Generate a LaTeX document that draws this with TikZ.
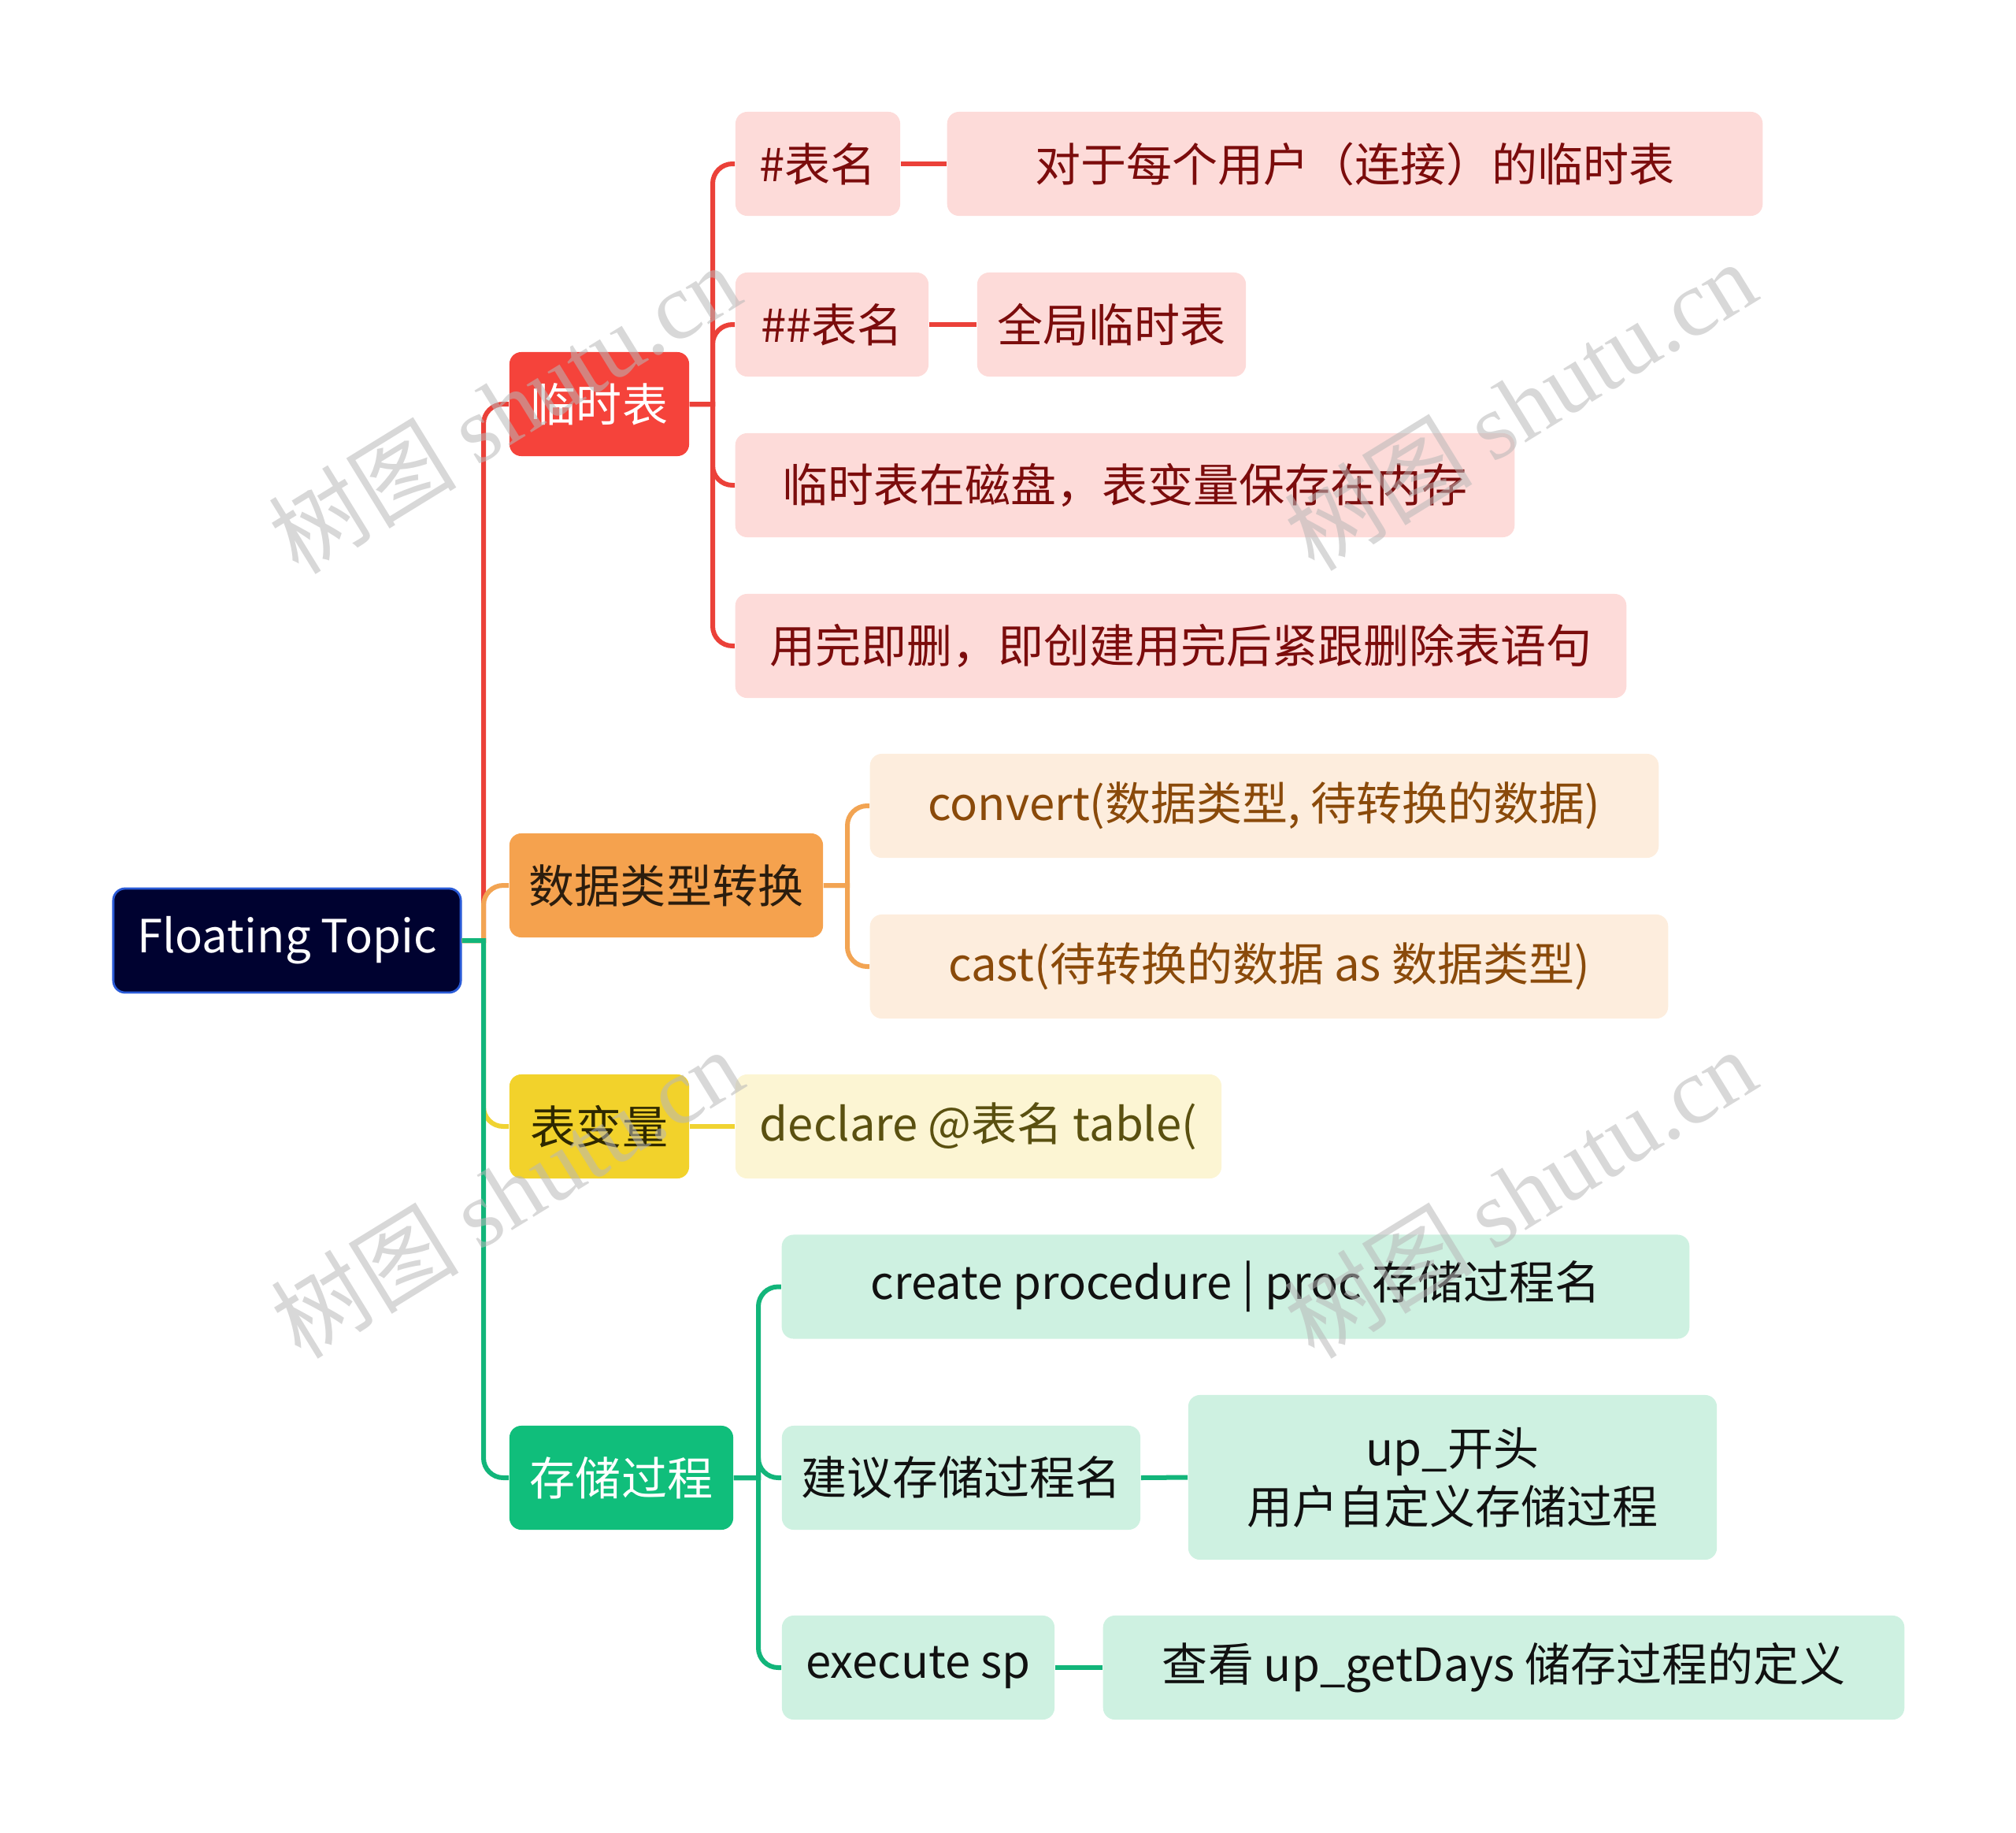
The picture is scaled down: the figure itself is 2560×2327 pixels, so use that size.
\documentclass[tikz,border=0pt]{standalone}
\usepackage{fontspec}
\setmainfont{Noto Sans CJK SC}
\newfontfamily\wmlat{Liberation Serif}
\newfontfamily\wmcjk{Noto Sans CJK SC}
\definecolor{rootfill}{HTML}{000230}
\definecolor{rootdraw}{HTML}{2A5BD7}
\definecolor{rmain}{HTML}{F5433B}
\definecolor{rlight}{HTML}{FDDBD9}
\definecolor{rtext}{HTML}{7B0C0C}
\definecolor{rline}{HTML}{EB4139}
\definecolor{omain}{HTML}{F5A24E}
\definecolor{olight}{HTML}{FDEDDD}
\definecolor{otext}{HTML}{8A4A0A}
\definecolor{omtext}{HTML}{2B1D0E}
\definecolor{oline}{HTML}{F2A453}
\definecolor{ymain}{HTML}{F2D22B}
\definecolor{ylight}{HTML}{FCF5D3}
\definecolor{ytext}{HTML}{5A5010}
\definecolor{ymtext}{HTML}{2E2800}
\definecolor{yline}{HTML}{F0D332}
\definecolor{gmain}{HTML}{10BE7B}
\definecolor{glight}{HTML}{CEF1E1}
\definecolor{gtext}{HTML}{111111}
\definecolor{gline}{HTML}{12B57A}
\definecolor{wm}{HTML}{B8B8B8}
\tikzset{
  box/.style={rectangle, rounded corners=0.15cm, inner sep=0pt, align=center,
    font=\fontsize{16.5}{21}\selectfont, minimum height=1.32cm},
  rootbox/.style={box, fill=rootfill, draw=rootdraw, line width=0.8pt, text=white},
  rbox/.style={box, fill=rmain, text=white},
  rsub/.style={box, fill=rlight, text=rtext},
  obox/.style={box, fill=omain, text=omtext},
  osub/.style={box, fill=olight, text=otext},
  ybox/.style={box, fill=ymain, text=ymtext},
  ysub/.style={box, fill=ylight, text=ytext},
  gbox/.style={box, fill=gmain, text=white},
  gsub/.style={box, fill=glight, text=gtext},
  conn/.style={line width=0.06cm},
  wmark/.style={rotate=31.6, text=wm, opacity=0.55, font=\fontsize{34}{36}\selectfont}
}
\begin{document}
\begin{tikzpicture}[x=0.01cm,y=-0.01cm]
\useasboundingbox (0,0) rectangle (2560,2327);
% root
\node[rootbox, minimum width=4.41cm] (root) at (364.5,1194) {Floating Topic};
% level 1
\node[rbox, minimum width=2.28cm] (n1) at (761,513) {临时表};
\node[obox, minimum width=3.98cm] (n2) at (846,1124) {数据类型转换};
\node[ybox, minimum width=2.28cm] (n3) at (761,1430) {表变量};
\node[gbox, minimum width=2.84cm] (n4) at (789,1876) {存储过程};
% red subtree
\node[rsub, minimum width=2.09cm] (a1) at (1038.5,208) {\#表名};
\node[rsub, minimum width=10.35cm] (a1b) at (1720.5,208) {对于每个用户（连接）的临时表};
\node[rsub, minimum width=2.45cm] (a2) at (1056.5,412) {\#\#表名};
\node[rsub, minimum width=3.41cm] (a2b) at (1411.5,412) {全局临时表};
\node[rsub, minimum width=9.89cm] (a3) at (1428.5,616) {临时表在磁盘，表变量保存在内存};
\node[rsub, minimum width=11.31cm] (a4) at (1499.5,820) {用完即删，即创建用完后紧跟删除表语句};
% orange subtree
\node[osub, minimum width=10.01cm] (b1) at (1605.5,1023) {convert(数据类型, 待转换的数据)};
\node[osub, minimum width=10.13cm] (b2) at (1611.5,1227) {cast(待转换的数据 as 数据类型)};
% yellow subtree
\node[ysub, minimum width=6.17cm] (c1) at (1242.5,1430) {declare @表名 table(};
% green subtree
\node[gsub, minimum width=11.52cm] (d1) at (1569,1633.5) {create procedure | proc 存储过程名};
\node[gsub, minimum width=4.55cm] (d2) at (1220.5,1876) {建议存储过程名};
\node[gsub, minimum width=6.71cm, minimum height=2.09cm] (d2b) at (1844.5,1875.5) {up\_开头\\用户自定义存储过程};
\node[gsub, minimum width=3.46cm] (d3) at (1166,2117) {execute sp};
\node[gsub, minimum width=10.17cm] (d3b) at (1909.5,2117) {查看 up\_getDays 储存过程的定义};
% root connectors
\coordinate (rj) at (614,1194);
\draw[conn, rline] (root.east) -- (rj) [rounded corners=0.25cm] |- (n1.west);
\draw[conn, yline] (root.east) -- (rj) [rounded corners=0.25cm] |- (n3.west);
\draw[conn, oline] (root.east) -- (rj) [rounded corners=0.25cm] |- (n2.west);
\draw[conn, gline] (root.east) -- (rj) [rounded corners=0.25cm] |- (n4.west);
% red connectors
\coordinate (aj) at (905,513);
\foreach \t in {a1,a2,a3,a4}{
  \draw[conn, rline] (n1.east) -- (aj) [rounded corners=0.25cm] |- (\t.west);
}
\draw[conn, rline] (a1.east) -- (a1b.west);
\draw[conn, rline] (a2.east) -- (a2b.west);
% orange connectors
\coordinate (bj) at (1076,1124);
\foreach \t in {b1,b2}{
  \draw[conn, oline] (n2.east) -- (bj) [rounded corners=0.25cm] |- (\t.west);
}
% yellow connector
\draw[conn, yline] (n3.east) -- (c1.west);
% green connectors
\coordinate (dj) at (963,1876);
\foreach \t in {d1,d2,d3}{
  \draw[conn, gline] (n4.east) -- (dj) [rounded corners=0.25cm] |- (\t.west);
}
\draw[conn, gline] (d2.east) -- (d2b.west);
\draw[conn, gline] (d3.east) -- (d3b.west);
% watermarks
\foreach \p in {(640,518),(1930,514),(643,1514),(1930,1514)}{
  \node[wmark] at \p {{\wmcjk 树图} {\wmlat shutu.cn}};
}
\end{tikzpicture}
\end{document}
